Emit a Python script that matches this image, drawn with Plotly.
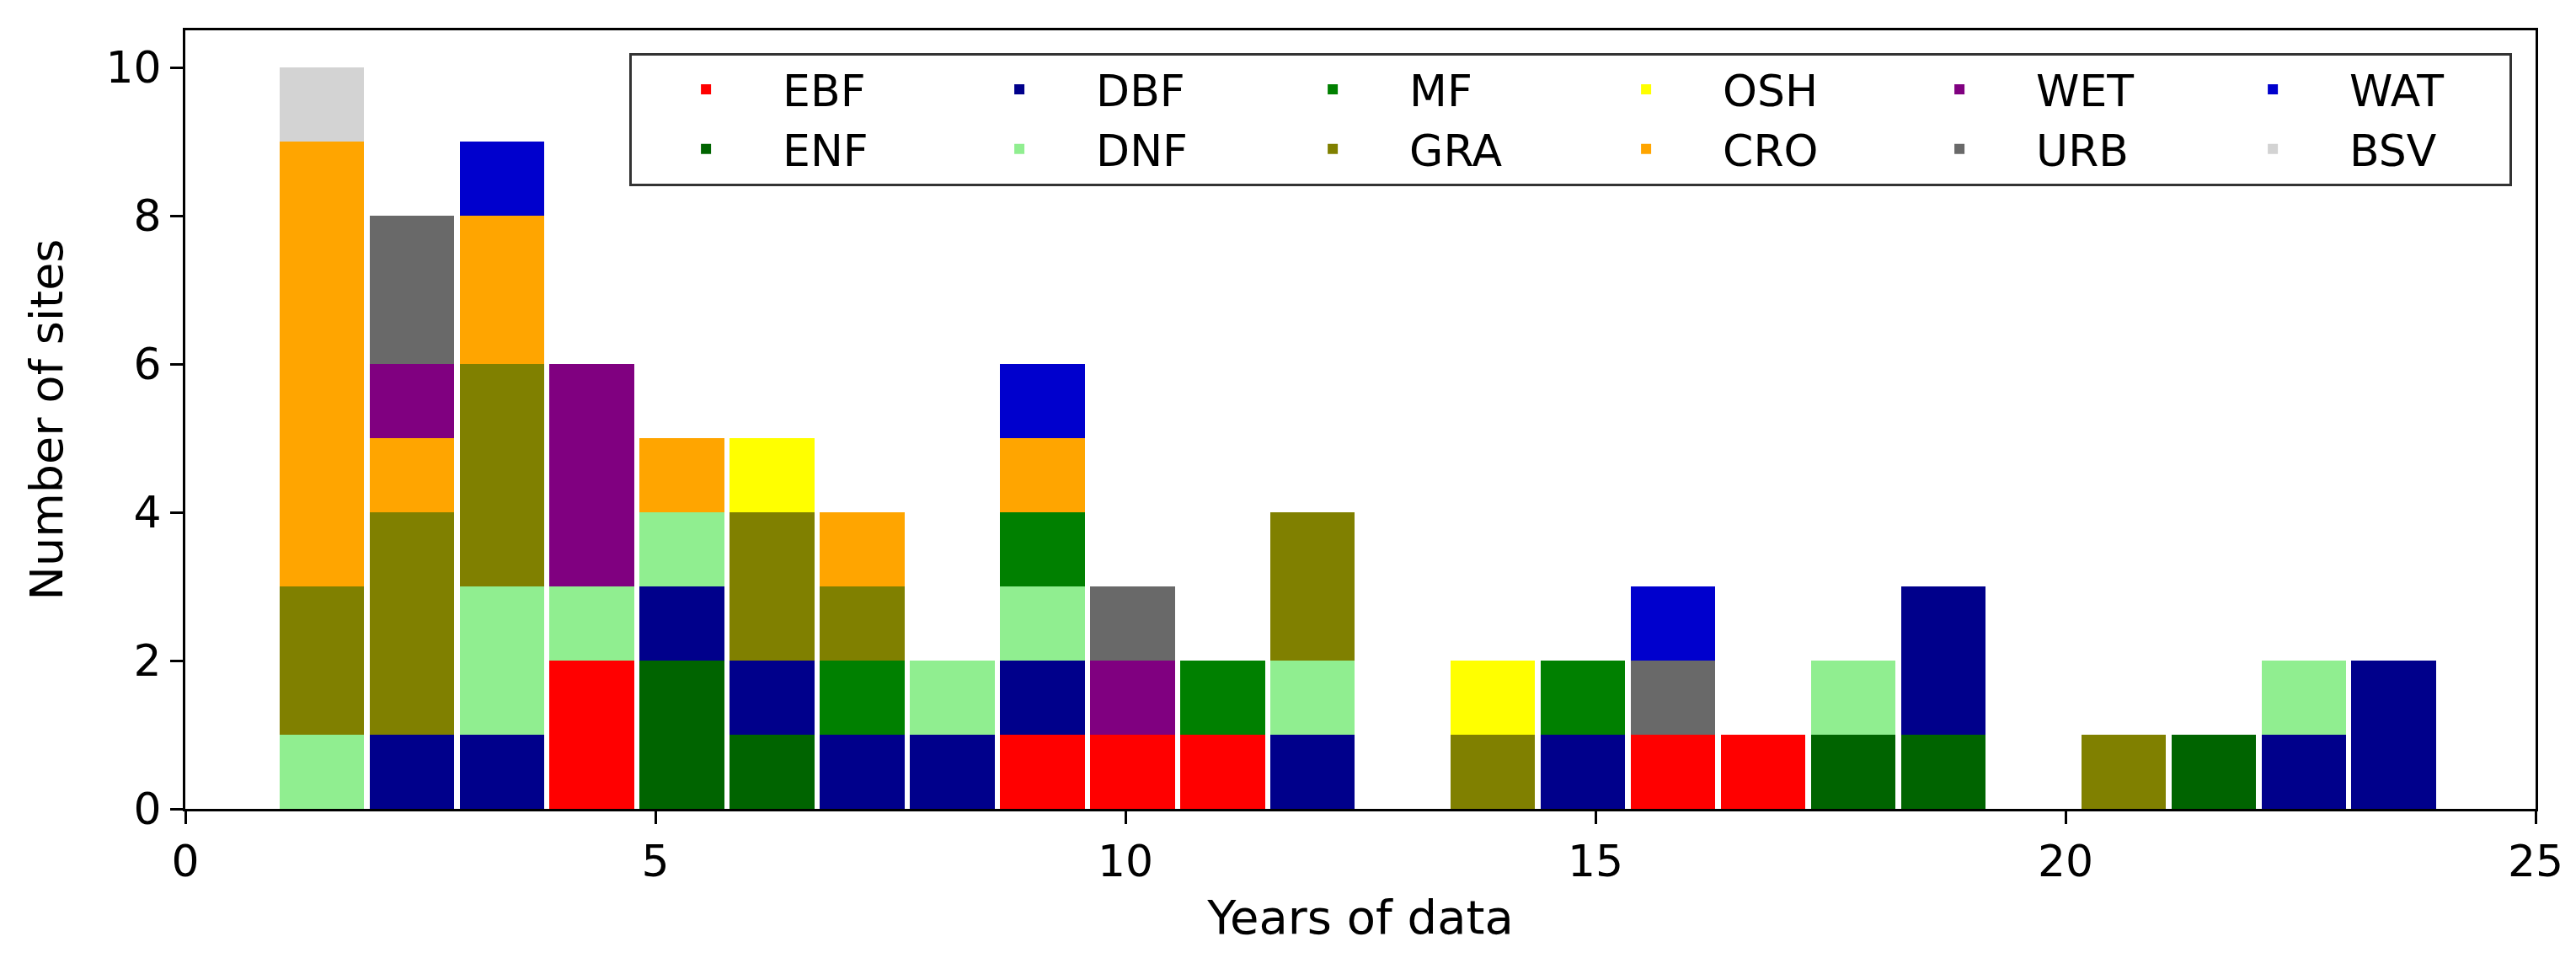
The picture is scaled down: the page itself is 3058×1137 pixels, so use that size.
import numpy as np
import plotly.graph_objects as go

# histogram of record length: 24 bins between 1 and 24 years
bin_edges = np.linspace(1, 24, 25)
bin_left = bin_edges[:-1]

classes = ["EBF", "ENF", "DBF", "DNF", "MF", "GRA",
           "OSH", "CRO", "WET", "URB", "WAT", "BSV"]

colors = {
    "EBF": "red", "ENF": "darkgreen", "DBF": "darkblue", "DNF": "lightgreen",
    "MF": "green", "GRA": "olive", "OSH": "yellow", "CRO": "orange",
    "WET": "purple", "URB": "dimgray", "WAT": "mediumblue", "BSV": "lightgray",
}

# sites per bin, one list per land cover class
EBF = [0, 0, 0, 2, 0, 0, 0, 0, 1, 1, 1, 0, 0, 0, 0, 1, 1, 0, 0, 0, 0, 0, 0, 0]
ENF = [0, 0, 0, 0, 2, 1, 0, 0, 0, 0, 0, 0, 0, 0, 0, 0, 0, 1, 1, 0, 0, 1, 0, 0]
DBF = [0, 1, 1, 0, 1, 1, 1, 1, 1, 0, 0, 1, 0, 0, 1, 0, 0, 0, 2, 0, 0, 0, 1, 2]
DNF = [1, 0, 2, 1, 1, 0, 0, 1, 1, 0, 0, 1, 0, 0, 0, 0, 0, 1, 0, 0, 0, 0, 1, 0]
MF  = [0, 0, 0, 0, 0, 0, 1, 0, 1, 0, 1, 0, 0, 0, 1, 0, 0, 0, 0, 0, 0, 0, 0, 0]
GRA = [2, 3, 3, 0, 0, 2, 1, 0, 0, 0, 0, 2, 0, 1, 0, 0, 0, 0, 0, 0, 1, 0, 0, 0]
OSH = [0, 0, 0, 0, 0, 1, 0, 0, 0, 0, 0, 0, 0, 1, 0, 0, 0, 0, 0, 0, 0, 0, 0, 0]
CRO = [6, 1, 2, 0, 1, 0, 1, 0, 1, 0, 0, 0, 0, 0, 0, 0, 0, 0, 0, 0, 0, 0, 0, 0]
WET = [0, 1, 0, 3, 0, 0, 0, 0, 0, 1, 0, 0, 0, 0, 0, 0, 0, 0, 0, 0, 0, 0, 0, 0]
URB = [0, 2, 0, 0, 0, 0, 0, 0, 0, 1, 0, 0, 0, 0, 0, 1, 0, 0, 0, 0, 0, 0, 0, 0]
WAT = [0, 0, 1, 0, 0, 0, 0, 0, 1, 0, 0, 0, 0, 0, 0, 1, 0, 0, 0, 0, 0, 0, 0, 0]
BSV = [1, 0, 0, 0, 0, 0, 0, 0, 0, 0, 0, 0, 0, 0, 0, 0, 0, 0, 0, 0, 0, 0, 0, 0]

counts = {"EBF": EBF, "ENF": ENF, "DBF": DBF, "DNF": DNF, "MF": MF, "GRA": GRA,
          "OSH": OSH, "CRO": CRO, "WET": WET, "URB": URB, "WAT": WAT, "BSV": BSV}

FONT = "DejaVu Sans"

fig = go.Figure()
for i, c in enumerate(classes):
    fig.add_trace(go.Bar(
        x=bin_left,
        y=counts[c],
        name=c,
        offset=0,
        width=0.9,
        marker=dict(color=colors[c], line=dict(width=0)),
        # two entries per legend column, filled column by column
        legendgroup="col%d" % (i // 2),
    ))

fig.update_layout(
    width=3058,
    height=1137,
    barmode="stack",
    plot_bgcolor="white",
    paper_bgcolor="white",
    font=dict(family=FONT, size=52, color="black"),
    margin=dict(l=212, r=56, t=28, b=185, autoexpand=False),
    legend=dict(
        orientation="h",
        traceorder="grouped",
        x=0.990, xanchor="right",
        y=0.971, yanchor="top",
        bgcolor="white",
        bordercolor="#333333",
        borderwidth=3,
        font=dict(family=FONT, size=52),
        itemwidth=172,
        entrywidth=185,
        tracegroupgap=0,
    ),
    xaxis=dict(
        range=[0, 25],
        tickvals=[0, 5, 10, 15, 20, 25],
        ticks="outside", ticklen=15, tickwidth=3, tickcolor="black",
        showline=True, linecolor="black", linewidth=3, mirror=True,
        showgrid=False, zeroline=False,
        title=dict(text="Years of data", standoff=18, font=dict(size=56)),
    ),
    yaxis=dict(
        range=[0, 10.5],
        tickvals=[0, 2, 4, 6, 8, 10],
        ticks="outside", ticklen=15, tickwidth=3, tickcolor="black",
        showline=True, linecolor="black", linewidth=3, mirror=True,
        showgrid=False, zeroline=False,
        title=dict(text="Number of sites", standoff=34, font=dict(size=54)),
    ),
)

fig.write_html("out.html")
